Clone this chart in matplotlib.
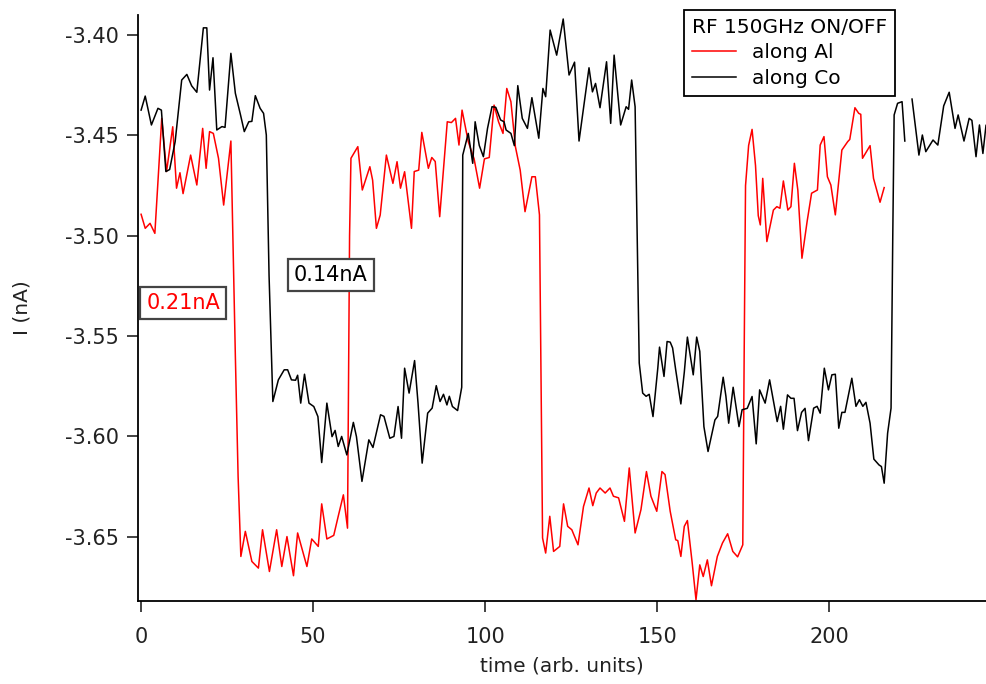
import numpy as np
import matplotlib
matplotlib.use('Agg')
import matplotlib.pyplot as plt

# values
al_t = [0, 1.2, 2.6, 4, 6, 7.4, 9.2, 10.3, 11.3, 12.2, 14.4, 16.2, 17.9, 18.9, 19.9, 21, 22.5, 24, 26.1,
        27.4, 28.2, 29, 30.3, 32.2, 34.1, 35.3, 37.3, 39.4, 40.9, 42.4, 44.3, 45.5, 48.2, 49.6, 51.5, 52.5,
        54, 56, 57.3, 58.8, 60, 60.6, 61, 63, 64.3, 66.5, 67.3, 68.4, 69.5, 71.3, 73.2, 74.4, 75.4, 76.6,
        78.6, 79.4, 80.7, 81.6, 83.5, 84.5, 85.5, 86.8, 89, 90.2, 91.4, 92.4, 93.3, 95.1, 96.8, 98.4, 99.8,
        101.2, 102.6, 103.9, 105.2, 106.3, 107.5, 108.8, 110.2, 111.6, 113.6, 114.6, 115.8, 116.3, 116.7,
        117.6, 118.8, 119.9, 121.7, 122.8, 124, 125.2, 127, 128.6, 130.2, 131.3, 132.3, 133.4, 134.9, 136.3,
        137.3, 138.8, 140.5, 141.9, 143.6, 145.3, 146.9, 148.2, 149.9, 151.4, 152.3, 153.8, 155.4, 156,
        156.9, 157.9, 158.8, 160.2, 161.3, 162.4, 163.4, 164.6, 165.8, 167.5, 169, 170.5, 172, 173.4, 174.9,
        175.3, 175.7, 176.6, 177.6, 178.6, 179.4, 180, 180.7, 181.9, 183.8, 184.8, 185.7, 186.7, 188, 188.9,
        189.9, 190.9, 192.1, 193.6, 194.9, 196.6, 197.4, 198.5, 199.5, 200.5, 201.8, 203.7, 205.4, 206,
        207.5, 208.6, 209.2, 209.7, 211.9, 212.9, 214.8, 216]
al_i = [-3.4893, -3.4963, -3.4938, -3.4988, -3.4415, -3.468, -3.4457, -3.4763, -3.4686, -3.479, -3.4598,
        -3.4747, -3.4465, -3.4664, -3.4481, -3.449, -3.4614, -3.4847, -3.4528,
        -3.56, -3.62, -3.6598, -3.6473, -3.6623, -3.6656, -3.6465, -3.6673, -3.6465, -3.6648, -3.6499,
        -3.6694, -3.6481, -3.6648, -3.6511, -3.6548, -3.6336, -3.6511, -3.6493, -3.6398, -3.6291, -3.6457,
        -3.50, -3.4614, -3.4556, -3.4772, -3.4656, -3.4723, -3.4963, -3.4897, -3.4598, -3.4739, -3.4631,
        -3.4763, -3.4681, -3.4963, -3.468, -3.4673, -3.4485, -3.4664, -3.461, -3.463, -3.4905, -3.4432,
        -3.4436, -3.4415, -3.4548, -3.4374, -3.4531, -3.4617, -3.4763, -3.4617, -3.461, -3.4349, -3.4432,
        -3.449, -3.4266, -3.4332, -3.4556, -3.4673, -3.488, -3.4706, -3.4706, -3.4896, -3.58, -3.6506,
        -3.6581, -3.6398, -3.6573, -3.6548, -3.6336, -3.6448, -3.6465, -3.654, -3.6349, -3.6257, -3.6345,
        -3.6282, -3.6257, -3.6282, -3.6257, -3.6298, -3.6306, -3.6423, -3.6157, -3.6481, -3.6365, -3.6175,
        -3.6298, -3.6373, -3.6175, -3.619, -3.6373, -3.6515, -3.6519, -3.6598, -3.6448, -3.6419, -3.6631,
        -3.6814, -3.664, -3.6698, -3.6615, -3.6744, -3.6598, -3.6531, -3.6485, -3.6573, -3.660, -3.654,
        -3.56, -3.475, -3.455, -3.447, -3.465, -3.49, -3.4946, -3.4714, -3.5029, -3.4872, -3.4855, -3.4863,
        -3.4727, -3.4872, -3.4855, -3.4639, -3.4772, -3.5112, -3.4929, -3.4788, -3.4772, -3.4548, -3.4506,
        -3.4706, -3.4747, -3.4896, -3.4573, -3.4531, -3.452, -3.4362, -3.439, -3.4395, -3.4614, -3.4551,
        -3.4714, -3.4833, -3.476]

co_t = [0, 1.2, 3, 4.9, 5.9, 7.2, 8.3, 9.9, 11.8, 13.3, 14.7, 16.2, 18.1, 19.1, 19.9, 20.9, 22, 23.5, 24.4,
        26.1, 27.4, 28.9, 30, 31.3, 32.2, 33.2, 34.6, 35.6, 36.4, 37.2, 38.3, 39.9, 41.6, 42.6, 43.7, 44.9,
        45.5, 46.4, 47.5, 48.8, 50.2, 51.4, 52.5, 54, 55.5, 56.4, 57.3, 58.3, 59.8, 61.7, 62.6, 64.2, 66.2,
        67.4, 69.6, 70.6, 72.3, 73.5, 74.7, 75.7, 76.6, 77.9, 79.5, 80.5, 81.7, 83.3, 84.6, 85.8, 86.9, 87.9,
        88.9, 89.6, 90.5, 92, 93.2, 93.5, 95.1, 96.4, 97.1, 98.3, 99.5, 100.7, 102, 103.1, 104.5, 105.5,
        106.1, 107.5, 108.5, 109.5, 110.8, 112.3, 113.6, 115.6, 116.8, 117.6, 118.9, 120.8, 122.7, 124.4,
        126, 127.3, 130.2, 131.2, 132.1, 133.4, 135.3, 136.5, 137.5, 139.4, 141, 141.7, 142.6, 143.6, 144.2,
        144.8, 145.8, 146.8, 147.7, 148.8, 150.2, 150.7, 152, 152.9, 153.8, 154.5, 155.4, 156.9, 157.9,
        158.8, 160.5, 161.5, 162.4, 163.6, 164.8, 166.8, 167.6, 169.2, 170, 170.8, 172.1, 173.8, 174.7,
        176.2, 177.6, 178.8, 179.8, 181.4, 182.7, 184.9, 185.9, 186.7, 187.9, 188.9, 189.8, 190.8, 192, 193,
        194, 195.5, 196.5, 197.4, 198.6, 199.8, 200.8, 201.8, 202.8, 203.7, 204.6, 206.6, 207.8, 208.8,
        209.8, 210.7, 211.9, 213, 214.5, 215.2, 216, 217, 218, 218.5, 218.9, 219.9, 221.2, 222, 223, 224.1,
        226.1, 227.1, 228.1, 230.2, 231.6, 233.3, 234.9, 236.6, 237.5, 239.2, 240.7, 241.5, 242.7, 243.7,
        244.7, 245.6]
co_i = [-3.4374, -3.4304, -3.4448, -3.4365, -3.4374, -3.468, -3.467, -3.4531, -3.4224, -3.4196, -3.4253,
        -3.4285, -3.3964, -3.3964, -3.4274, -3.4113, -3.4473, -3.4456, -3.446, -3.4091, -3.429, -3.4398,
        -3.4481, -3.4432, -3.443, -3.4302, -3.4365, -3.439, -3.4498, -3.52, -3.5826, -3.5718, -3.5668,
        -3.5668, -3.5718, -3.572, -3.5695, -3.5834, -3.569, -3.5834, -3.5851, -3.5901, -3.613, -3.5834,
        -3.6001, -3.597, -3.605, -3.600, -3.6092, -3.593, -3.6001, -3.6224, -3.6017, -3.6055, -3.5892,
        -3.590, -3.6009, -3.600, -3.5851, -3.6009, -3.566, -3.5784, -3.5622, -3.5834, -3.6133, -3.5884,
        -3.5859, -3.5747, -3.5826, -3.579, -3.5843, -3.580, -3.5851, -3.5871, -3.5755, -3.4598, -3.449,
        -3.4639, -3.4432, -3.455, -3.4606, -3.4465, -3.4357, -3.436, -3.4423, -3.4432, -3.4473, -3.449,
        -3.4551, -3.4252, -3.4415, -3.4465, -3.4312, -3.4514, -3.4266, -3.4307, -3.3975, -3.410, -3.392,
        -3.4199, -3.4135, -3.4528, -3.4163, -3.4283, -3.4241, -3.4362, -3.4133, -3.444, -3.410, -3.4448,
        -3.4357, -3.437, -3.4224, -3.4357, -3.50, -3.5634, -3.5784, -3.580, -3.579, -3.5901, -3.5659,
        -3.5555, -3.5701, -3.5527, -3.553, -3.5559, -3.5668, -3.5838, -3.568, -3.5505, -3.5693, -3.5505,
        -3.5576, -3.5951, -3.6075, -3.5918, -3.590, -3.5705, -3.580, -3.5934, -3.5755, -3.5951, -3.5867,
        -3.586, -3.5801, -3.6037, -3.5768, -3.5834, -3.5718, -3.5926, -3.585, -3.5964, -3.5793, -3.581,
        -3.581, -3.5971, -3.588, -3.586, -3.6021, -3.5859, -3.585, -3.5884, -3.566, -3.5768, -3.5693,
        -3.569, -3.5959, -3.588, -3.588, -3.571, -3.585, -3.5817, -3.585, -3.583, -3.5934, -3.6113,
        -3.6142, -3.615, -3.6233, -3.5984, -3.5859, -3.50, -3.4398, -3.434, -3.4332, -3.4528, np.nan,
        -3.4319, -3.4598, -3.4498, -3.4581, -3.4523, -3.4548, -3.4353, -3.4285, -3.4465, -3.4398,
        -3.4528, -3.4415, -3.4425, -3.4606, -3.4448, -3.459, -3.445]

W, H = 986, 684
fig = plt.figure(figsize=(W / 100, H / 100), dpi=100)
ax = fig.add_axes([138 / W, 1 - 601 / H, 1 - 138 / W, (601 - 15) / H])

ax.plot(al_t, al_i, color='#ff0000', lw=1.1, label='along Al')
ax.plot(co_t, co_i, color='black', lw=1.1, label='along Co')

ax.set_xlim(-0.9, 245.6)
ax.set_ylim(-3.682, -3.390)
ax.set_xticks([0, 50, 100, 150, 200])
ax.set_yticks([-3.65, -3.60, -3.55, -3.50, -3.45, -3.40])
ax.yaxis.set_major_formatter(matplotlib.ticker.FormatStrFormatter('%.2f'))
for s in ['top', 'right']:
    ax.spines[s].set_visible(False)
for s in ['left', 'bottom']:
    ax.spines[s].set_linewidth(1.3)
ax.tick_params(direction='out', length=8, width=1.2, labelsize=15, colors='#222222')
ax.tick_params(axis='x', pad=11)
ax.tick_params(axis='y', pad=6)

ax.set_xlabel('time (arb. units)', fontsize=14.5, color='#222222')
ax.set_ylabel('I (nA)', fontsize=14.5, color='#222222')
ax.xaxis.set_label_coords(0.5, -0.095)
ax.yaxis.set_label_coords(-0.125, 0.5)

box = dict(boxstyle='square,pad=0.3', facecolor='white', edgecolor='#444444', linewidth=1.6)
ax.text(12.2, -3.5335, '0.21nA', color='#ff0000', fontsize=15, ha='center', va='center', bbox=box)
ax.text(55.2, -3.5195, '0.14nA', color='black', fontsize=15, ha='center', va='center', bbox=box)

leg = fig.legend(loc='upper left', bbox_to_anchor=(684 / W, 1 - 10 / H), title='RF 150GHz ON/OFF',
                 fontsize=14.5, title_fontsize=14.5, frameon=True, fancybox=False, framealpha=1,
                 edgecolor='black', borderpad=0.4, labelspacing=0.32, handlelength=2.2,
                 handletextpad=0.8, borderaxespad=0)
leg.get_frame().set_linewidth(1.3)
leg._legend_box.align = 'left'

fig.savefig('out.png', dpi=100)
